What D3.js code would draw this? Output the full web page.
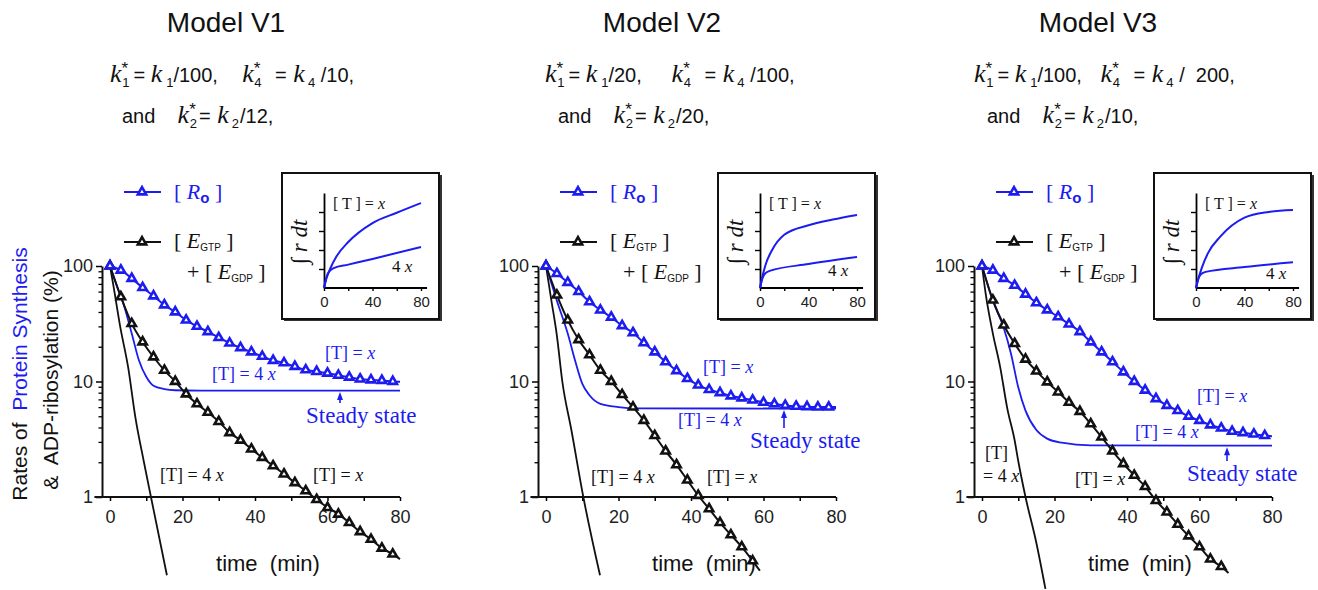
<!DOCTYPE html>
<meta charset="utf-8">
<script src="https://d3js.org/d3.v7.min.js"></script>
<style>
  body { margin: 0; background: #fff; }
  svg text { font-family: "Liberation Sans", Arial, sans-serif; white-space: pre; }
  .serif { font-family: "Liberation Serif", "Times New Roman", serif; }
</style>
<div id="my_dataviz"></div>
<script>

// ---- data ----
var panelTitles = ["Model V1", "Model V2", "Model V3"];
var k1Div = ["/100,    ", "/20,     ", "/100,   "];
var k4Div = [" /10,", " /100,", " /  200,"];
var k2Div = ["/12,", "/20,", "/10,"];

var yMajor = [1, 10, 100];
var yMinor = [2, 3, 4, 5, 6, 7, 8, 9, 20, 30, 40, 50, 60, 70, 80, 90];
var xTicks = [0, 10, 20, 30, 40, 50, 60, 70, 80];
var insetXTicks = [0, 20, 40, 60, 80];
var insetYTicks = [1, 2, 3, 4];

// [time (min), %]  -- series with triangles every 3 min
var v1RoX = [[0,100],[3,92],[6,78],[9,65],[12,55],[15,46],[18,40],[21,34],[24,30],[27,27],[30,24],[33,21.5],[36,19.6],[39,18],[42,16.5],[45,15.2],[48,14.5],[51,13.5],[54,12.6],[57,12.2],[60,11.8],[63,11.3],[66,10.9],[69,10.5],[72,10.3],[75,10.2],[78,10],[80,9.95]];
var v1Ro4x = [[0,100],[2,66],[4,44],[6,26],[8,15.2],[10,11],[12,9.2],[15,8.6],[18,8.4],[25,8.35],[80,8.35]];
var v1EX = [[0,100],[3,54],[6,31.7],[9,22],[12,16.3],[15,12.5],[18,10],[21,7.8],[24,6.4],[27,5.4],[30,4.5],[33,3.6],[36,3.1],[39,2.6],[42,2.2],[45,1.86],[48,1.58],[51,1.33],[54,1.13],[57,0.95],[60,0.81],[63,0.71],[66,0.6],[69,0.5],[72,0.43],[75,0.36],[78,0.32],[80,0.29]];
var v1E4x = [[0,100],[1,66],[2.8,30],[5,13.3],[7,4.9],[9.3,2.05],[11.3,1],[15.7,0.21]];

var v2RoX = [[0,100],[3,86],[6,72],[9,60],[12,49],[15,41.5],[18,36],[21,30.4],[24,26.4],[27,21.6],[30,18],[33,14.8],[36,12.4],[39,10.6],[42,9.3],[45,8.5],[48,8.0],[51,7.5],[54,7.2],[57,6.9],[60,6.6],[63,6.4],[66,6.2],[69,6.1],[72,6.05],[75,6.0],[78,6.0],[80,6.0]];
var v2Ro4x = [[0,100],[3,50],[6,26],[8,15.3],[10,9.6],[12,7.6],[15,6.4],[20,6.0],[25,5.85],[80,5.83]];
var v2EX = [[0,100],[3,56],[6,34],[9,23],[12,17],[15,12.5],[18,10],[21,7.7],[24,6.0],[27,4.6],[30,3.4],[33,2.5],[36,1.9],[39,1.4],[42,1.03],[45,0.79],[48,0.6],[51,0.47],[54,0.37],[57,0.28],[59,0.23]];
var v2E4x = [[0,100],[1.5,50],[3,25],[4.5,10],[7,3.8],[10.3,1],[14.9,0.21]];

var v3RoX = [[0,100],[3,92],[6,78],[9,68],[12,57],[15,48],[18,41.6],[21,36.3],[24,31.4],[27,27],[30,22],[33,18],[36,14.8],[39,12.1],[42,10],[45,8.4],[48,7.1],[51,6.2],[54,5.6],[57,5.0],[60,4.6],[63,4.2],[66,3.95],[69,3.7],[72,3.6],[75,3.5],[78,3.4],[80,3.35]];
var v3Ro4x = [[0,100],[3,50],[6,29],[8,17.4],[10,8.9],[12,5.6],[15,3.8],[18,3.2],[22,2.95],[30,2.8],[80,2.78]];
var v3EX = [[0,100],[3,50.6],[6,30.8],[9,21.3],[12,15.6],[15,12.3],[18,9.9],[21,8.1],[24,6.6],[27,5.5],[30,4.3],[33,3.3],[36,2.5],[39,1.94],[42,1.54],[45,1.23],[48,0.93],[51,0.74],[54,0.58],[57,0.46],[60,0.37],[63,0.29],[66,0.25],[68,0.22]];
var v3E4x = [[0,100],[1,58],[3,26],[5,13.4],[7,5.8],[9,3.1],[10,2.05],[12,1],[15,0.4],[17.5,0.16]];

// inset: integrated rate, arbitrary units
var v1IntX = [[0,0],[2,0.5],[5,1.0],[10,1.63],[20,2.42],[40,3.42],[60,3.96],[80,4.47]];
var v1Int4x = [[0,0],[2,0.55],[4,0.85],[8,1.05],[20,1.23],[40,1.53],[80,2.16]];
var v2IntX = [[0,0],[2,0.6],[5,1.3],[10,2.0],[20,2.8],[40,3.3],[60,3.6],[80,3.84]];
var v2Int4x = [[0,0],[2,0.5],[4,0.75],[8,0.9],[40,1.26],[80,1.63]];
var v3IntX = [[0,0],[2,0.5],[5,1.1],[10,1.85],[20,2.7],[40,3.7],[60,4.0],[80,4.1]];
var v3Int4x = [[0,0],[2,0.5],[4,0.72],[8,0.85],[40,1.1],[80,1.35]];

var series = [
  {roX: v1RoX, ro4x: v1Ro4x, eX: v1EX, e4x: v1E4x, intX: v1IntX, int4x: v1Int4x},
  {roX: v2RoX, ro4x: v2Ro4x, eX: v2EX, e4x: v2E4x, intX: v2IntX, int4x: v2Int4x},
  {roX: v3RoX, ro4x: v3Ro4x, eX: v3EX, e4x: v3E4x, intX: v3IntX, int4x: v3Int4x}
];

// ---- layout (pixel positions, per panel) ----
var panelShift = [0, 436, 872];
var layout = [
  {eq1: 110, eq2: 122, blueX: [325, 359], blue4x: [212, 380], steady: [306, 423], arrowX: 340,
   blackX: [313, 481], black4x: [[160, 481, "[T] = 4 "]], int4x: [392, 272]},
  {eq1: 109, eq2: 122, blueX: [267, 373], blue4x: [242, 426], steady: [314, 448], arrowX: 348,
   blackX: [271, 483], black4x: [[155, 483, "[T] = 4 "]], int4x: [392, 276]},
  {eq1: 102, eq2: 115, blueX: [325, 402], blue4x: [263, 438], steady: [315, 481], arrowX: 355,
   blackX: [203, 485], black4x: [[113, 459, "[T]"], [111, 482, "= 4 "]], int4x: [394, 279]}
];

var blue = "#1c1cf0", black = "#111";

var svg = d3.select("#my_dataviz")
  .append("svg")
    .attr("width", 1318)
    .attr("height", 590);

// y-axis title (shared)
var yt = svg.append("text")
  .attr("transform", "translate(27,374) rotate(-90)")
  .attr("text-anchor", "middle")
  .attr("font-size", "21px");
yt.append("tspan").attr("fill", black).text("Rates of  ");
yt.append("tspan").attr("fill", blue).text("Protein Synthesis");
svg.append("text")
  .attr("transform", "translate(58,380) rotate(-90)")
  .attr("text-anchor", "middle")
  .attr("font-size", "21px")
  .attr("fill", black)
  .text("&  ADP-ribosylation (%)");

var triangle = d3.symbol().type(d3.symbolTriangle).size(30);

// k-term with optional star over subscript
function kTerm(t, base, sub, star, dxK, dxSub) {
  t.append("tspan").attr("class", "serif").attr("font-style", "italic")
    .attr("font-size", "26px").attr("dx", dxK || 0).attr("y", base).text("k");
  if (star) {
    t.append("tspan").attr("font-size", "17px").attr("y", base - 8).text("*");
    t.append("tspan").attr("font-size", "13px").attr("dx", -6).attr("y", base + 5).text(sub);
  } else {
    t.append("tspan").attr("font-size", "13px").attr("dx", dxSub || 0).attr("y", base + 5).text(sub);
  }
}
function plain(t, base, s, dx) {
  t.append("tspan").attr("font-size", "20px").attr("dx", dx || 0).attr("y", base).text(s);
}

series.forEach(function(S, i) {
  var L = layout[i];
  var g = svg.append("g").attr("transform", "translate(" + panelShift[i] + ",0)");

  // title
  g.append("text").attr("x", 226).attr("y", 32).attr("text-anchor", "middle")
    .attr("font-size", "28px").attr("fill", black).text(panelTitles[i]);

  // equations
  var e1 = g.append("text").attr("x", L.eq1).attr("y", 82).attr("fill", black);
  kTerm(e1, 82, "1", true); plain(e1, 82, "= ", 4);
  kTerm(e1, 82, "1", false, 0, 4); plain(e1, 82, k1Div[i]);
  kTerm(e1, 82, "4", true, 2); plain(e1, 82, " = ", 8);
  kTerm(e1, 82, "4", false, 1, 3); plain(e1, 82, k4Div[i]);

  var e2 = g.append("text").attr("x", L.eq2).attr("y", 123).attr("fill", black);
  plain(e2, 123, "and    ");
  kTerm(e2, 123, "2", true); plain(e2, 123, "= ", 2);
  kTerm(e2, 123, "2", false, 1, 3); plain(e2, 123, k2Div[i], 1);

  // scales
  var x = d3.scaleLinear().domain([0, 80]).range([110, 400]);
  var y = d3.scaleLog().domain([1, 100]).range([497, 266]);

  // y axis
  g.append("g").attr("transform", "translate(102,0)")
    .call(d3.axisLeft(y).tickValues(yMajor).tickSize(6).tickSizeOuter(0).tickPadding(3)
      .tickFormat(d3.format("d")))
    .call(function(a) {
      a.selectAll("text").attr("font-size", "18px").attr("fill", "#222");
      a.select(".domain").attr("stroke", black).attr("stroke-width", 2);
      a.selectAll(".tick line").attr("stroke-width", 1.5);
    });
  g.append("g").attr("transform", "translate(102,0)")
    .call(d3.axisLeft(y).tickValues(yMinor).tickSize(3.5).tickFormat(""))
    .call(function(a) {
      a.select(".domain").remove();
      a.selectAll(".tick line").attr("stroke-width", 1.3);
    });

  // x axis
  g.append("g").attr("transform", "translate(0,497)")
    .call(d3.axisBottom(x).tickValues(xTicks).tickSize(4).tickSizeOuter(0).tickPadding(9)
      .tickFormat(function(d) { return d % 20 === 0 ? d : ""; }))
    .call(function(a) {
      a.selectAll("text").attr("font-size", "18px").attr("fill", "#222");
      a.select(".domain").attr("stroke", black).attr("stroke-width", 2)
        .attr("d", "M" + (x(-4.3)) + ",0H" + x(80));
      a.selectAll(".tick line").attr("stroke-width", 1.5);
    });

  g.append("text").attr("x", 268).attr("y", 571).attr("text-anchor", "middle")
    .attr("font-size", "22px").attr("fill", black).text("time  (min)");

  var line = d3.line()
    .x(function(d) { return x(d[0]); })
    .y(function(d) { return y(d[1]); })
    .curve(d3.curveMonotoneX);

  function curve(data, color, w) {
    g.append("path").datum(data).attr("d", line)
      .attr("fill", "none").attr("stroke", color).attr("stroke-width", w);
  }
  function marks(data, color) {
    g.selectAll(null)
      .data(data.filter(function(d) { return d[0] % 3 === 0 && d[0] <= 78; }))
      .enter().append("path")
      .attr("d", triangle)
      .attr("transform", function(d) { return "translate(" + x(d[0]) + "," + y(d[1]) + ")"; })
      .attr("fill", "#fff").attr("stroke", color).attr("stroke-width", 2.6);
  }

  curve(S.e4x, black, 1.8);
  curve(S.ro4x, blue, 1.8);
  curve(S.eX, black, 2);
  marks(S.eX, black);
  curve(S.roX, blue, 2);
  marks(S.roX, blue);

  // labels on curves
  function tlabel(pos, color, s, italicX) {
    var t = g.append("text").attr("class", "serif").attr("x", pos[0]).attr("y", pos[1])
      .attr("font-size", "18px").attr("fill", color);
    t.append("tspan").text(s);
    if (italicX) t.append("tspan").attr("font-style", "italic").text("x");
  }
  tlabel(L.blueX, blue, "[T] = ", true);
  tlabel(L.blue4x, blue, "[T] = 4 ", true);
  tlabel(L.blackX, black, "[T] = ", true);
  L.black4x.forEach(function(b) {
    tlabel([b[0], b[1]], black, b[2], b[2] !== "[T]");
  });
  g.append("text").attr("class", "serif").attr("x", L.steady[0]).attr("y", L.steady[1])
    .attr("font-size", "23px").attr("fill", blue).text("Steady state");

  // arrow to the steady-state line
  var ss = S.ro4x[S.ro4x.length - 1];
  var tipY = y(ss[1]) + 1.5;
  g.append("line").attr("x1", L.arrowX).attr("x2", L.arrowX)
    .attr("y1", tipY + 5).attr("y2", L.steady[1] - 20)
    .attr("stroke", blue).attr("stroke-width", 1.6);
  g.append("path")
    .attr("d", "M" + L.arrowX + "," + tipY + "l-3,8h6z")
    .attr("fill", blue);

  // legend
  g.append("line").attr("x1", 124).attr("x2", 161).attr("y1", 192).attr("y2", 192)
    .attr("stroke", blue).attr("stroke-width", 2.2);
  g.append("path").attr("d", triangle).attr("transform", "translate(142,192)")
    .attr("fill", "#fff").attr("stroke", blue).attr("stroke-width", 2.6);
  var l1 = g.append("text").attr("class", "serif").attr("x", 174).attr("y", 199)
    .attr("font-size", "22px").attr("fill", blue);
  l1.append("tspan").text("[ ");
  l1.append("tspan").attr("font-style", "italic").text("R");
  l1.append("tspan").attr("font-family", "Liberation Sans, Arial, sans-serif")
    .attr("font-weight", "bold").attr("font-size", "15px").attr("dy", 4).text("o");
  l1.append("tspan").attr("dy", -4).text(" ]");

  g.append("line").attr("x1", 124).attr("x2", 161).attr("y1", 242).attr("y2", 242)
    .attr("stroke", black).attr("stroke-width", 2.2);
  g.append("path").attr("d", triangle).attr("transform", "translate(142,242)")
    .attr("fill", "#fff").attr("stroke", black).attr("stroke-width", 2.6);
  var l2 = g.append("text").attr("class", "serif").attr("x", 174).attr("y", 248)
    .attr("font-size", "22px").attr("fill", black);
  l2.append("tspan").text("[ ");
  l2.append("tspan").attr("font-style", "italic").text("E");
  l2.append("tspan").attr("font-family", "Liberation Sans, Arial, sans-serif")
    .attr("font-size", "10px").attr("dy", 3).text("GTP");
  l2.append("tspan").attr("dy", -3).text(" ]");
  var l3 = g.append("text").attr("class", "serif").attr("x", 187).attr("y", 279)
    .attr("font-size", "22px").attr("fill", black);
  l3.append("tspan").text("+ [ ");
  l3.append("tspan").attr("font-style", "italic").text("E");
  l3.append("tspan").attr("font-family", "Liberation Sans, Arial, sans-serif")
    .attr("font-size", "10px").attr("dy", 3).text("GDP");
  l3.append("tspan").attr("dy", -3).text(" ]");

  // inset
  g.append("rect").attr("x", 284).attr("y", 175).attr("width", 158).attr("height", 146)
    .attr("fill", "#333");
  g.append("rect").attr("x", 282).attr("y", 173).attr("width", 157).attr("height", 146)
    .attr("fill", "#fff").attr("stroke", black).attr("stroke-width", 2);

  var ix = d3.scaleLinear().domain([0, 80]).range([324, 421]);
  var iy = d3.scaleLinear().domain([0, 5]).range([288, 193]);

  g.append("g").attr("transform", "translate(324,0)")
    .call(d3.axisLeft(iy).tickValues(insetYTicks).tickSize(5).tickSizeOuter(0).tickFormat(""))
    .call(function(a) {
      a.select(".domain").attr("stroke-width", 1.8);
      a.selectAll(".tick line").attr("stroke-width", 1.4);
    });
  g.append("g").attr("transform", "translate(0,288)")
    .call(d3.axisBottom(ix).tickValues(insetXTicks).tickSize(3).tickSizeOuter(0).tickPadding(5)
      .tickFormat(function(d) { return d % 40 === 0 ? d : ""; }))
    .call(function(a) {
      a.select(".domain").attr("stroke-width", 1.8).attr("d", "M" + ix(0) + ",0H" + ix(85));
      a.selectAll("text").attr("font-size", "15px").attr("fill", "#222");
      a.selectAll(".tick line").attr("stroke-width", 1.4);
    });

  var iline = d3.line()
    .x(function(d) { return ix(d[0]); })
    .y(function(d) { return iy(d[1]); })
    .curve(d3.curveMonotoneX);
  [S.intX, S.int4x].forEach(function(dd) {
    g.append("path").datum(dd).attr("d", iline)
      .attr("fill", "none").attr("stroke", blue).attr("stroke-width", 2);
  });

  var it = g.append("text").attr("class", "serif").attr("x", 333).attr("y", 209)
    .attr("font-size", "16px").attr("fill", black);
  it.append("tspan").text("[ T ] = ");
  it.append("tspan").attr("font-style", "italic").text("x");
  var i4 = g.append("text").attr("class", "serif").attr("x", L.int4x[0]).attr("y", L.int4x[1])
    .attr("font-size", "17px").attr("fill", black);
  i4.append("tspan").text("4 ");
  i4.append("tspan").attr("font-style", "italic").text("x");

  g.append("text").attr("class", "serif")
    .attr("transform", "translate(307,242) rotate(-90)")
    .attr("text-anchor", "middle")
    .attr("font-size", "23px").attr("font-style", "italic").attr("fill", black)
    .text("\u222B r dt");
});

</script>
